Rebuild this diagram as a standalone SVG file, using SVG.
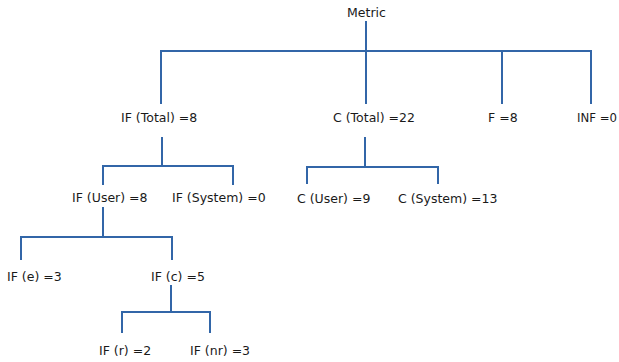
<svg xmlns="http://www.w3.org/2000/svg" width="619" height="362" viewBox="0 0 619 362">
<style>
text{font-family:"DejaVu Sans",Verdana,sans-serif;font-size:12.5px;fill:#1a1a1a}
.c path{fill:none;stroke:#3266a8;stroke-width:2}
</style>
<rect width="619" height="362" fill="#fff"/>
<g class="c" id="connectors">
<path d="M366 21V51M161 104V51H591V104M366 51V104M502 51V104"/>
<path d="M162 137V166M103 185V166H233V185"/>
<path d="M365 137V167M307 184V167H438V184"/>
<path d="M103 207V237M21 260V237H172V260"/>
<path d="M171 285V312M122 333V312H210V333"/>
</g>
<g id="metric"><text x="347" y="17">Metric</text></g>
<g id="if-total"><text x="121" y="122">IF (Total) =8</text></g>
<g id="c-total"><text x="333" y="122">C (Total) =22</text></g>
<g id="f"><text x="488" y="122">F =8</text></g>
<g id="inf"><text x="577" y="122" textLength="40" lengthAdjust="spacingAndGlyphs">INF =0</text></g>
<g id="if-user"><text x="72" y="202">IF (User) =8</text></g>
<g id="if-system"><text x="172" y="202">IF (System) =0</text></g>
<g id="c-user"><text x="297" y="203">C (User) =9</text></g>
<g id="c-system"><text x="398" y="203">C (System) =13</text></g>
<g id="if-e"><text x="7" y="281">IF (e) =3</text></g>
<g id="if-c"><text x="151" y="281">IF (c) =5</text></g>
<g id="if-r"><text x="99" y="355">IF (r) =2</text></g>
<g id="if-nr"><text x="190" y="355">IF (nr) =3</text></g>
</svg>
